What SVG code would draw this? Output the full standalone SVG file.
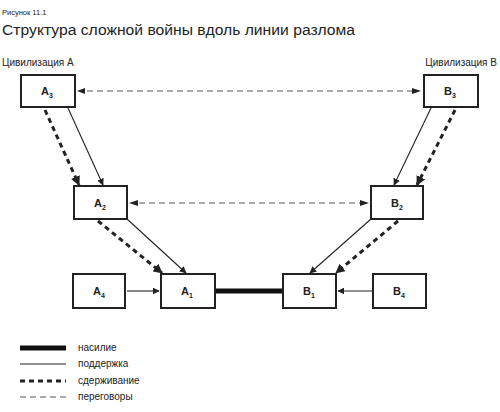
<svg xmlns="http://www.w3.org/2000/svg" width="500" height="412" viewBox="0 0 500 412">
<style>
text{font-family:"Liberation Sans",Arial,sans-serif;fill:#222}
.box{fill:#fff;stroke:#222;stroke-width:2}
.lbl{font-size:11px;font-weight:bold;text-anchor:middle}
.sub{font-size:7px}
.sup{stroke:#222;stroke-width:1.1;fill:none}
.con{stroke:#222;stroke-width:3;stroke-dasharray:5 4;fill:none}
.neg{stroke:#555;stroke-width:1;stroke-dasharray:6 4;fill:none}
.vio{stroke:#111;stroke-width:5;fill:none}
.leg{font-size:10px}
</style>
<defs>
<marker id="ah" viewBox="0 0 10 10" refX="9" refY="5" markerWidth="7" markerHeight="7" markerUnits="userSpaceOnUse" orient="auto"><path d="M0,0L10,5L0,10z" fill="#222"/></marker>
<marker id="ahb" viewBox="0 0 10 10" refX="9" refY="5" markerWidth="3.2" markerHeight="3.2" orient="auto"><path d="M0,0L10,5L0,10z" fill="#222"/></marker>
</defs>
<text x="2" y="15" font-size="7.5">Рисунок 11.1</text>
<text x="2" y="35" font-size="14" textLength="353" lengthAdjust="spacingAndGlyphs">Структура сложной войны вдоль линии разлома</text>
<text x="2" y="66" font-size="10">Цивилизация А</text>
<text x="497" y="66" font-size="10" text-anchor="end">Цивилизация В</text>
<g id="connectors">
<line class="neg" x1="87" y1="91" x2="412" y2="91"/>
<line class="neg" x1="139" y1="203" x2="360" y2="203"/>
<path d="M85,88L77,91L85,94z M412,88L421,91L412,94z M138,200L129,203L138,206z M360,200L369,203L360,206z" fill="#222"/>
<line class="vio" x1="215" y1="291" x2="283" y2="291"/>
<line class="sup" x1="127" y1="291" x2="159" y2="291" marker-end="url(#ah)"/>
<line class="sup" x1="372" y1="291" x2="338" y2="291" marker-end="url(#ah)"/>
<line class="sup" x1="68" y1="108" x2="103" y2="185" marker-end="url(#ah)"/>
<line class="con" x1="45" y1="110" x2="79" y2="185" marker-end="url(#ahb)"/>
<line class="sup" x1="127" y1="219" x2="186" y2="273" marker-end="url(#ah)"/>
<line class="con" x1="98" y1="221" x2="162" y2="273" marker-end="url(#ahb)"/>
<line class="sup" x1="431" y1="108" x2="394" y2="185" marker-end="url(#ah)"/>
<line class="con" x1="455" y1="110" x2="417" y2="185" marker-end="url(#ahb)"/>
<line class="sup" x1="371" y1="219" x2="310" y2="273" marker-end="url(#ah)"/>
<line class="con" x1="398" y1="221" x2="336" y2="273" marker-end="url(#ahb)"/>
</g>
<g id="A3"><rect class="box" x="21" y="75" width="54" height="32"/><text class="lbl" x="47" y="95">A<tspan class="sub" dy="3">3</tspan></text></g>
<g id="B3"><rect class="box" x="424" y="75" width="54" height="32"/><text class="lbl" x="450" y="95">B<tspan class="sub" dy="3">3</tspan></text></g>
<g id="A2"><rect class="box" x="74" y="186" width="53" height="33"/><text class="lbl" x="100" y="207">A<tspan class="sub" dy="3">2</tspan></text></g>
<g id="B2"><rect class="box" x="371" y="186" width="52" height="33"/><text class="lbl" x="397" y="207">B<tspan class="sub" dy="3">2</tspan></text></g>
<g id="A4"><rect class="box" x="73" y="274" width="52" height="34"/><text class="lbl" x="99" y="295">A<tspan class="sub" dy="3">4</tspan></text></g>
<g id="A1"><rect class="box" x="161" y="274" width="54" height="34"/><text class="lbl" x="187" y="295">A<tspan class="sub" dy="3">1</tspan></text></g>
<g id="B1"><rect class="box" x="283" y="274" width="53" height="34"/><text class="lbl" x="309" y="295">B<tspan class="sub" dy="3">1</tspan></text></g>
<g id="B4"><rect class="box" x="373" y="274" width="53" height="34"/><text class="lbl" x="399" y="295">B<tspan class="sub" dy="3">4</tspan></text></g>
<g id="legend">
<line class="vio" x1="20" y1="348" x2="66" y2="348"/>
<line class="sup" x1="20" y1="364" x2="66" y2="364"/>
<line class="con" x1="20" y1="381" x2="66" y2="381"/>
<line class="neg" x1="20" y1="397" x2="66" y2="397"/>
<text class="leg" x="78" y="351">насилие</text>
<text class="leg" x="78" y="367">поддержка</text>
<text class="leg" x="78" y="384">сдерживание</text>
<text class="leg" x="78" y="400">переговоры</text>
</g>
</svg>
